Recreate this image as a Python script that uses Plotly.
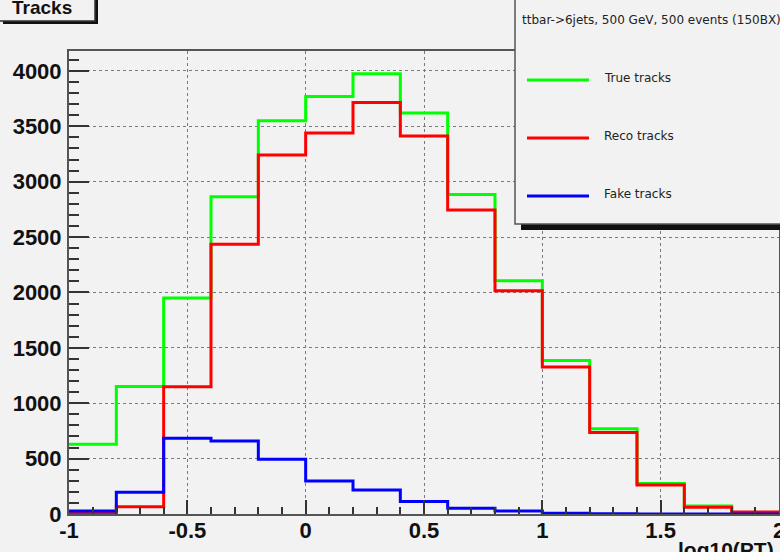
import plotly.graph_objects as go

# log10(PT) binning: 15 bins of width 0.2 from -1 to 2
bin_edges = [-1.0, -0.8, -0.6, -0.4, -0.2, 0.0, 0.2, 0.4, 0.6, 0.8, 1.0, 1.2, 1.4, 1.6, 1.8, 2.0]

true_tracks = [630, 1150, 1950, 2865, 3550, 3770, 3975, 3620, 2885, 2105, 1385, 770, 275, 72, 8]
reco_tracks = [12, 66, 1148, 2435, 3240, 3440, 3715, 3412, 2745, 2015, 1328, 735, 262, 60, 18]
fake_tracks = [28, 196, 683, 658, 495, 298, 217, 112, 52, 27, 7, 2, 1, 0, 0]

series_names = ["True tracks", "Reco tracks", "Fake tracks"]
series_colors = ["#00ff00", "#ff0000", "#0000ff"]
legend_header = "ttbar->6jets, 500 GeV, 500 events (150BX)"
histo_title = "Tracks"
x_title = "log10(PT)"

BG = "#f2f2f2"
W, H = 780, 552
L, R, T, B = 69, 779, 51, 514  # plot frame in pixels


def px(x):
    return (x - L) / (R - L)


def py(y):
    return (B - y) / (B - T)


fig = go.Figure()

for name, vals, col in zip(series_names, [true_tracks, reco_tracks, fake_tracks], series_colors):
    fig.add_trace(go.Scatter(
        x=bin_edges,
        y=vals + [vals[-1]],
        mode="lines",
        line=dict(color=col, width=3, shape="hv"),
        name=name,
        showlegend=False,
        cliponaxis=False,
    ))

tick_font = dict(family="Liberation Sans, Arial, sans-serif", size=22, color="#111111", weight="bold")

fig.update_xaxes(
    range=[-1, 2],
    tickvals=[-1, -0.5, 0, 0.5, 1, 1.5, 2],
    ticktext=["-1", "-0.5", "0", "0.5", "1", "1.5", "2"],
    ticks="inside", ticklen=14, tickwidth=2, tickcolor="#333333",
    minor=dict(dtick=0.1, ticks="inside", ticklen=7, tickwidth=2, tickcolor="#333333", showgrid=False),
    showgrid=True, gridcolor="#7a7a7a", gridwidth=1, griddash="dot",
    showline=True, linecolor="#555555", linewidth=2, mirror=True,
    zeroline=False,
    tickfont=tick_font,
    ticklabelstandoff=-4,
    ticklabeloverflow="allow",
    automargin=False,
)
fig.update_yaxes(
    range=[0, 4180],
    tickvals=[0, 500, 1000, 1500, 2000, 2500, 3000, 3500, 4000],
    ticks="inside", ticklen=20, tickwidth=2, tickcolor="#333333",
    minor=dict(dtick=100, ticks="inside", ticklen=10, tickwidth=2, tickcolor="#333333", showgrid=False),
    showgrid=True, gridcolor="#7a7a7a", gridwidth=1, griddash="dot",
    showline=True, linecolor="#555555", linewidth=2, mirror=True,
    zeroline=False,
    tickfont=tick_font,
    ticklabelstandoff=1,
    ticklabeloverflow="allow",
    automargin=False,
)

shapes = []
annotations = []

# title box with drop shadow
shapes.append(dict(type="rect", xref="paper", yref="paper",
                   x0=px(3), x1=px(98), y0=py(24), y1=py(-10),
                   fillcolor="#111111", line=dict(width=0), layer="above"))
shapes.append(dict(type="rect", xref="paper", yref="paper",
                   x0=px(-5), x1=px(95), y0=py(21), y1=py(-10),
                   fillcolor=BG, line=dict(color="#333333", width=1.5), layer="above"))
annotations.append(dict(text=f"<b>{histo_title}</b>", xref="paper", yref="paper",
                        x=px(42), y=py(7), xanchor="center", yanchor="middle",
                        showarrow=False, font=dict(family="Liberation Sans, Arial", size=19, color="#111111")))

# legend box with drop shadow
shapes.append(dict(type="rect", xref="paper", yref="paper",
                   x0=px(521), x1=px(820), y0=py(230), y1=py(-10),
                   fillcolor="#111111", line=dict(width=0), layer="above"))
shapes.append(dict(type="rect", xref="paper", yref="paper",
                   x0=px(515), x1=px(815), y0=py(224), y1=py(-10),
                   fillcolor=BG, line=dict(color="#555555", width=1.5), layer="above"))
legend_font = dict(family="DejaVu Sans, Verdana", size=12, color="#222222")
annotations.append(dict(text=legend_header, xref="paper", yref="paper",
                        x=px(520), y=py(20), xanchor="left", yanchor="middle",
                        showarrow=False, font=legend_font))

entry_rows = [80, 138, 196]
for name, col, row in zip(series_names, series_colors, entry_rows):
    shapes.append(dict(type="line", xref="paper", yref="paper",
                       x0=px(527), x1=px(589), y0=py(row), y1=py(row),
                       line=dict(color=col, width=3), layer="above"))
    annotations.append(dict(text=name, xref="paper", yref="paper",
                            x=px(602), y=py(row - 2), xanchor="left", yanchor="middle",
                            showarrow=False, font=legend_font))

# x-axis title at the lower right
annotations.append(dict(text=f"<b>{x_title}</b>", xref="paper", yref="paper",
                        x=px(676), y=py(536), xanchor="left", yanchor="top",
                        showarrow=False, font=dict(family="Liberation Sans, Arial", size=21, color="#111111")))

fig.update_layout(
    width=W, height=H,
    margin=dict(l=L, r=W - R, t=T, b=H - B, pad=0, autoexpand=False),
    paper_bgcolor=BG, plot_bgcolor=BG,
    shapes=shapes, annotations=annotations,
    showlegend=False,
)

fig.write_html("out.html", config=dict(displayModeBar=False))
